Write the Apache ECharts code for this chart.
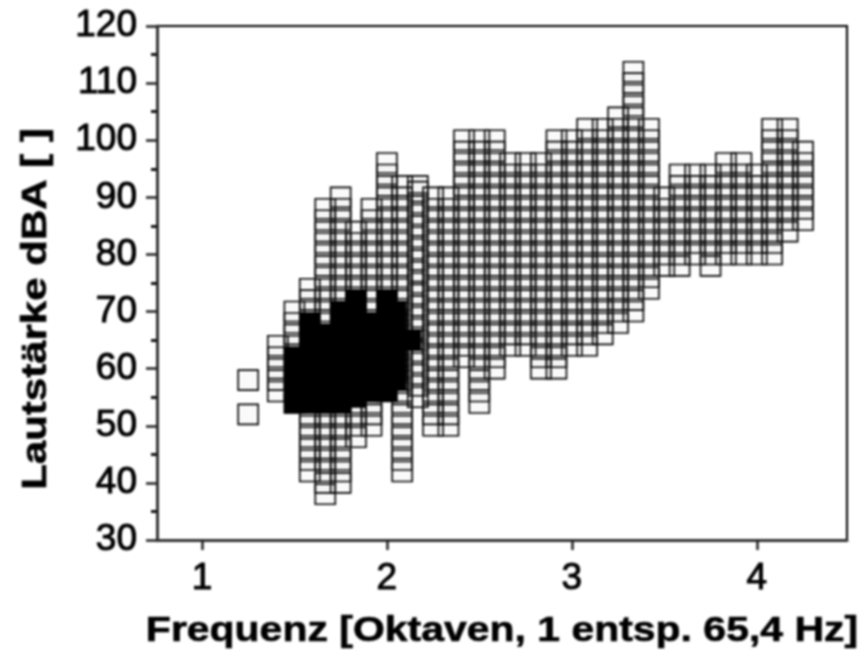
<!DOCTYPE html>
<html><head><meta charset="utf-8">
<script src="https://cdn.jsdelivr.net/npm/echarts@6/dist/echarts.min.js"></script>
<style>html,body{margin:0;padding:0;background:#fff}#c{width:866px;height:650px;filter:blur(0.9px)}</style>
</head><body><div id="c"></div>
<script>
// Frequency of each column (octaves) with the lowest and highest level (dB)
const columnFreq = [1.25,1.25,1.41,1.5,1.583,1.667,1.75,1.833,1.917,2,2.083,2.167,2.25,2.333,2.417,2.5,2.583,2.667,2.75,2.833,2.917,3,3.083,3.167,3.25,3.333,3.417,3.5,3.583,3.667,3.75,3.833,3.917,4,4.083,4.167,4.25];
const columnLow  = [52,58,56,54,42,38,40,48,50,56,42,55,50,50,62,54,60,64,64,60,60,64,64,66,68,70,74,78,78,80,78,80,80,80,80,84,86];
const columnHigh = [52,58,64,70,74,88,90,84,88,96,92,92,90,90,100,100,100,96,96,96,100,100,102,102,104,112,102,90,94,94,94,96,96,94,102,102,98];
// Dense core, painted solid
const coreFreq = [1.5,1.583,1.667,1.75,1.833,1.917,2,2.05,2.13];
const coreLow  = [54,54,54,54,55,56,56,58,65];
const coreHigh = [62,68,66,70,72,68,72,70,65];
const xTicks = [1,2,3,4];
const xTitle = 'Frequenz [Oktaven, 1 entsp. 65,4 Hz]';
const yTitle = 'Lautstärke dBA [ ]';

function rows(fr, lo, hi){
  const out=[];
  fr.forEach((f,i)=>{
    for(let v=lo[i];v<hi[i];v+=2) out.push([f,v]);
    out.push([f,hi[i]]);
  });
  return out;
}
const font='"Liberation Sans", Arial, sans-serif';
const chart=echarts.init(document.getElementById('c'),null,{renderer:'canvas'});
chart.setOption({
  animation:false,
  backgroundColor:'#fff',
  grid:{left:157,right:19,top:26,bottom:110,show:true,borderColor:'#000',borderWidth:2,backgroundColor:'transparent',outerBoundsMode:'none'},
  xAxis:{type:'value',min:0.757,max:4.488,
    splitLine:{show:false},
    axisLine:{show:true,lineStyle:{color:'#333',width:3}},
    axisTick:{show:true,length:10,lineStyle:{color:'#222',width:2.5},customValues:xTicks},
    axisLabel:{fontFamily:font,fontSize:37,color:'#000',margin:20,textBorderColor:'#000',textBorderWidth:1,customValues:xTicks}
  },
  yAxis:{type:'value',min:30,max:120,interval:10,
    splitLine:{show:false},
    axisLine:{show:true,lineStyle:{color:'#333',width:3}},
    axisTick:{show:true,length:11,lineStyle:{color:'#222',width:2.5}},
    minorTick:{show:true,splitNumber:2,length:6,lineStyle:{color:'#111',width:3}},
    axisLabel:{fontFamily:font,fontSize:37,color:'#000',margin:20,textBorderColor:'#000',textBorderWidth:1}
  },
  graphic:[
    {type:'text',x:502,y:631,scaleX:1.17,silent:true,style:{text:xTitle,font:'bold 35px '+font,fill:'#000',stroke:'#000',lineWidth:0.6,textAlign:'center',textVerticalAlign:'middle'}},
    {type:'text',x:36,y:309,scaleX:1.2,rotation:Math.PI/2,silent:true,style:{text:yTitle,font:'bold 35px '+font,fill:'#000',stroke:'#000',lineWidth:0.6,textAlign:'center',textVerticalAlign:'middle'}}
  ],
  series:[
    {type:'scatter',data:rows(columnFreq,columnLow,columnHigh),symbol:'rect',symbolSize:20,z:2,clip:false,
     itemStyle:{color:'rgba(0,0,0,0.02)',borderColor:'#000',borderWidth:1.6,opacity:1},silent:true},
    {type:'scatter',data:rows(coreFreq,coreLow,coreHigh),symbol:'rect',symbolSize:20,z:3,clip:false,
     itemStyle:{color:'#000',borderColor:'#000',borderWidth:1,opacity:1},silent:true}
  ]
});
</script></body></html>
